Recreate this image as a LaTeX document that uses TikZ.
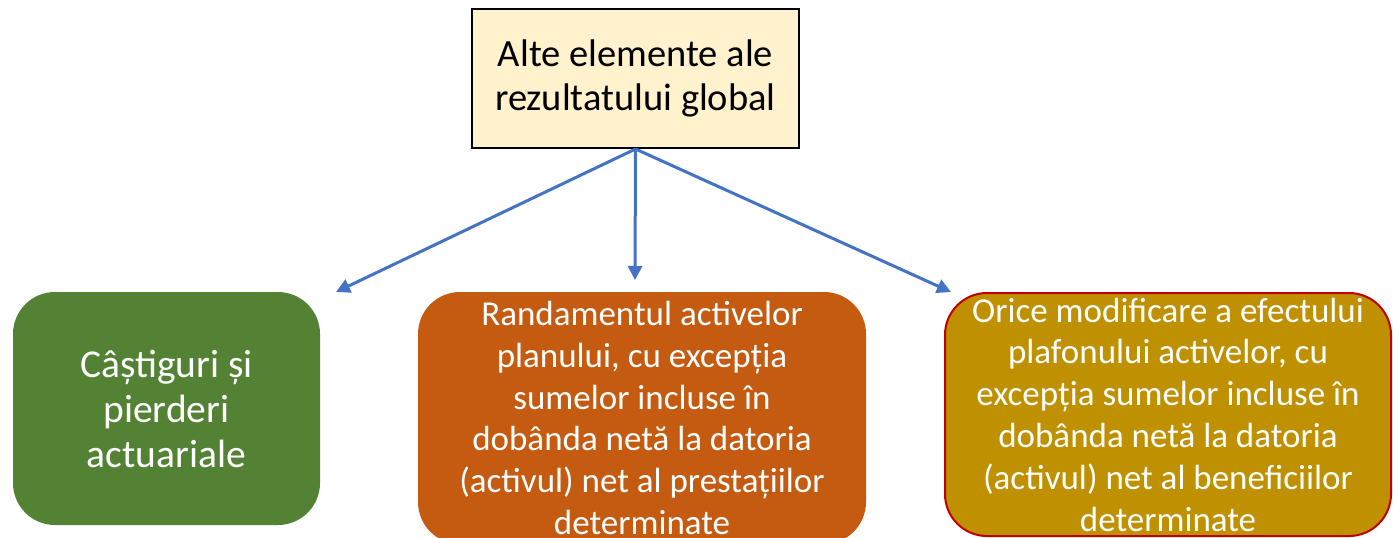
\documentclass[tikz,border=0pt]{standalone}
\usepackage{fontspec}
\setmainfont{Carlito}
\usetikzlibrary{arrows.meta}
\definecolor{topfill}{HTML}{FFF2CC}
\definecolor{greenfill}{HTML}{548235}
\definecolor{orangefill}{HTML}{C55A11}
\definecolor{goldfill}{HTML}{BF9000}
\definecolor{redline}{HTML}{C00000}
\definecolor{arrowblue}{HTML}{4472C4}
\tikzset{
  topbox/.style={draw=black, line width=2pt, fill=topfill, text=black, align=center,
    font=\fontsize{38.5}{44}\selectfont, inner sep=0pt},
  leafbox/.style={rounded corners=42pt, text=white, align=center,
    font=\fontsize{35}{41.8}\selectfont, inner sep=0pt},
  link/.style={draw=arrowblue, line width=3pt, -{Triangle[length=14pt,width=14pt]}}
}
\begin{document}
\begin{tikzpicture}[x=1pt,y=-1pt]
\useasboundingbox (0,0) rectangle (1393,538);
\node[topbox, minimum width=327pt, minimum height=139pt] (top) at (635.5,78.5)
  {Alte elemente ale\\rezultatului global};
\node[leafbox, fill=greenfill, minimum width=307pt, minimum height=233pt,
  font=\fontsize{39.5}{45}\selectfont] (g) at (166.5,408.5)
  {Câștiguri și\\pierderi\\actuariale};
\node[leafbox, fill=orangefill, minimum width=448pt, minimum height=252pt] (o) at (642,418)
  {Randamentul activelor\\planului, cu excepția\\sumelor incluse în\\dobânda netă la datoria\\(activul) net al prestațiilor\\determinate};
\node[leafbox, fill=goldfill, draw=redline, line width=2pt, minimum width=446pt, minimum height=243pt] (d) at (1168,414.5)
  {Orice modificare a efectului\\plafonului activelor, cu\\excepția sumelor incluse în\\dobânda netă la datoria\\(activul) net al beneficiilor\\determinate};
\coordinate (s) at (top.south);
\coordinate (e1) at (336,292);
\coordinate (e2) at (635,280);
\coordinate (e3) at (951,292);
\draw[link] (s) -- (e1);
\draw[link] (s) -- (e2);
\draw[link] (s) -- (e3);
\end{tikzpicture}
\end{document}
